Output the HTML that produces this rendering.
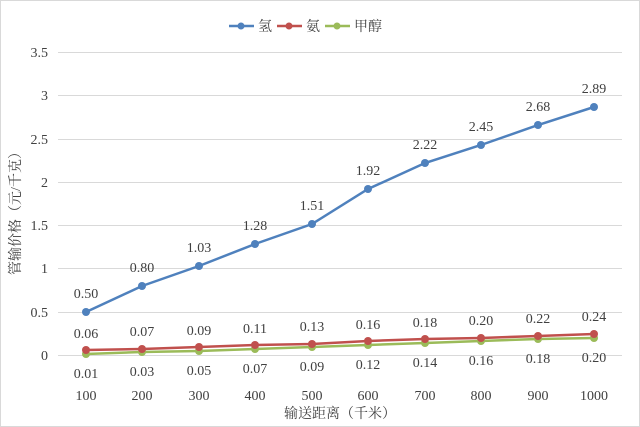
<!DOCTYPE html><html><head><meta charset="utf-8"><style>body{margin:0;background:#fff}svg{display:block}text{font-family:"Liberation Serif","Noto Serif CJK SC",serif;fill:#404040}</style></head><body>
<svg width="640" height="427" viewBox="0 0 640 427">
<rect x="0.5" y="0.5" width="639" height="426" fill="#fff" stroke="#d9d9d9"/>
<g stroke="#d9d9d9" stroke-width="1">
<line x1="58" x2="622" y1="52.5" y2="52.5"/><line x1="58" x2="622" y1="95.5" y2="95.5"/><line x1="58" x2="622" y1="139.5" y2="139.5"/><line x1="58" x2="622" y1="182.5" y2="182.5"/><line x1="58" x2="622" y1="225.5" y2="225.5"/><line x1="58" x2="622" y1="268.5" y2="268.5"/><line x1="58" x2="622" y1="312.5" y2="312.5"/><line x1="58" x2="622" y1="355.5" y2="355.5"/>
</g>
<g font-size="14" text-anchor="end">
<text x="48" y="57">3.5</text><text x="48" y="100">3</text><text x="48" y="144">2.5</text><text x="48" y="187">2</text><text x="48" y="230">1.5</text><text x="48" y="273">1</text><text x="48" y="317">0.5</text><text x="48" y="360">0</text>
</g>
<g font-size="14" text-anchor="middle">
<text x="86" y="400">100</text><text x="142" y="400">200</text><text x="199" y="400">300</text><text x="255" y="400">400</text><text x="312" y="400">500</text><text x="368" y="400">600</text><text x="425" y="400">700</text><text x="481" y="400">800</text><text x="538" y="400">900</text><text x="594" y="400">1000</text>
</g>
<text x="340" y="418" font-size="14" text-anchor="middle">输送距离（千米）</text>
<text transform="translate(20,210) rotate(-90)" font-size="14" text-anchor="middle">管输价格（元/千克）</text>
<!-- green -->
<polyline fill="none" stroke="#9bbb59" stroke-width="2.5" points="86,354 142,352 199,351 255,349 312,347 368,345 425,343 481,341 538,339 594,338"/>
<g fill="#9bbb59"><circle cx="86" cy="354" r="4"/><circle cx="142" cy="352" r="4"/><circle cx="199" cy="351" r="4"/><circle cx="255" cy="349" r="4"/><circle cx="312" cy="347" r="4"/><circle cx="368" cy="345" r="4"/><circle cx="425" cy="343" r="4"/><circle cx="481" cy="341" r="4"/><circle cx="538" cy="339" r="4"/><circle cx="594" cy="338" r="4"/></g>
<!-- red -->
<polyline fill="none" stroke="#c0504d" stroke-width="2.5" points="86,350 142,349 199,347 255,345 312,344 368,341 425,339 481,338 538,336 594,334"/>
<g fill="#c0504d"><circle cx="86" cy="350" r="4"/><circle cx="142" cy="349" r="4"/><circle cx="199" cy="347" r="4"/><circle cx="255" cy="345" r="4"/><circle cx="312" cy="344" r="4"/><circle cx="368" cy="341" r="4"/><circle cx="425" cy="339" r="4"/><circle cx="481" cy="338" r="4"/><circle cx="538" cy="336" r="4"/><circle cx="594" cy="334" r="4"/></g>
<!-- blue -->
<polyline fill="none" stroke="#4f81bd" stroke-width="2.5" points="86,312 142,286 199,266 255,244 312,224 368,189 425,163 481,145 538,125 594,107"/>
<g fill="#4f81bd"><circle cx="86" cy="312" r="4"/><circle cx="142" cy="286" r="4"/><circle cx="199" cy="266" r="4"/><circle cx="255" cy="244" r="4"/><circle cx="312" cy="224" r="4"/><circle cx="368" cy="189" r="4"/><circle cx="425" cy="163" r="4"/><circle cx="481" cy="145" r="4"/><circle cx="538" cy="125" r="4"/><circle cx="594" cy="107" r="4"/></g>
<g font-size="14" text-anchor="middle">
<text x="86" y="298">0.50</text><text x="142" y="272">0.80</text><text x="199" y="252">1.03</text><text x="255" y="230">1.28</text><text x="312" y="210">1.51</text><text x="368" y="175">1.92</text><text x="425" y="149">2.22</text><text x="481" y="131">2.45</text><text x="538" y="111">2.68</text><text x="594" y="93">2.89</text>
<text x="86" y="338">0.06</text><text x="142" y="336">0.07</text><text x="199" y="335">0.09</text><text x="255" y="333">0.11</text><text x="312" y="331">0.13</text><text x="368" y="329">0.16</text><text x="425" y="327">0.18</text><text x="481" y="325">0.20</text><text x="538" y="323">0.22</text><text x="594" y="321">0.24</text>
<text x="86" y="378">0.01</text><text x="142" y="376">0.03</text><text x="199" y="375">0.05</text><text x="255" y="373">0.07</text><text x="312" y="371">0.09</text><text x="368" y="369">0.12</text><text x="425" y="367">0.14</text><text x="481" y="365">0.16</text><text x="538" y="363">0.18</text><text x="594" y="362">0.20</text>
</g>
<g>
<line x1="229" x2="254" y1="26" y2="26" stroke="#4f81bd" stroke-width="2.5"/><circle cx="241" cy="26" r="3.5" fill="#4f81bd"/>
<text x="258" y="31" font-size="14">氢</text>
<line x1="277" x2="302" y1="26" y2="26" stroke="#c0504d" stroke-width="2.5"/><circle cx="289" cy="26" r="3.5" fill="#c0504d"/>
<text x="306" y="31" font-size="14">氨</text>
<line x1="325" x2="350" y1="26" y2="26" stroke="#9bbb59" stroke-width="2.5"/><circle cx="337" cy="26" r="3.5" fill="#9bbb59"/>
<text x="354" y="31" font-size="14">甲醇</text>
</g>
</svg>
</body></html>
